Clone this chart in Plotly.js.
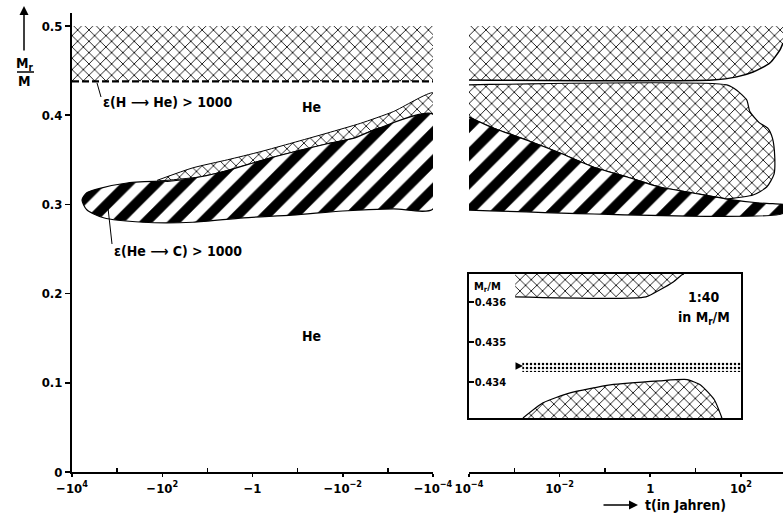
<!DOCTYPE html>
<html>
<head>
<meta charset="utf-8">
<script src="https://cdn.plot.ly/plotly-3.0.1.min.js"></script>
<style>html,body{margin:0;padding:0;background:#fff;}#chart{width:783px;height:517px;}</style>
</head>
<body>
<div id="chart"></div>
<script>
// ---------- DATA (t in years, Mr/M) ----------
// Left panel: before the flash maximum (t < 0)
const hShellM = 0.438;                         // ε(H→He) > 1000 boundary
const envTopM = 0.5;
const leftEnvT = [-1e4, -1e-4];

// He-burning region (ε(He→C) > 1000), left panel, outline going round
const leftBurnT = [-6000, -4700, -2400, -600, -110, -68, -14, -3.6, -0.41, -0.022, -0.0059, -0.0017, -0.0001,
                   -0.0001, -0.00076, -0.01, -0.13, -1.6, -21, -270, -2000, -4700, -6000];
const leftBurnM = [0.305, 0.313, 0.318, 0.324, 0.326, 0.326, 0.331, 0.338, 0.352, 0.368, 0.374, 0.385, 0.401,
                   0.295, 0.295, 0.2926, 0.288, 0.285, 0.280, 0.280, 0.285, 0.294, 0.305];

// Convective band above the burning region, left panel
const leftConvTopT = [-130, -21, -3.6, -0.68, -0.13, -0.022, -0.004, -0.00076, -0.0001];
const leftConvTopM = [0.327, 0.341, 0.350, 0.359, 0.369, 0.380, 0.391, 0.404, 0.425];
const leftConvBotT = [-0.0001, -0.0017, -0.0059, -0.022, -0.41, -3.6, -14, -130];
const leftConvBotM = [0.401, 0.385, 0.374, 0.368, 0.352, 0.338, 0.331, 0.326];

// Right panel: after the flash maximum (t > 0)
const rightEnvBotT = [1e-4, 24, 81, 186, 437, 724, 850];
const rightEnvBotM = [0.4395, 0.4395, 0.443, 0.4484, 0.4585, 0.473, 0.481];

const rightBurnTopT = [1e-4, 0.00034, 0.0019, 0.0102, 0.055, 0.31, 1.6, 8.7, 49, 263, 724, 850];
const rightBurnTopM = [0.398, 0.3857, 0.372, 0.3576, 0.342, 0.3307, 0.3195, 0.3128, 0.306, 0.3016, 0.3004, 0.300];
const rightBurnBotT = [850, 1e-4];
const rightBurnBotM = [0.290, 0.2937];

// Convective zone of the flash, right panel (outer edge)
const rightConvT = [1e-4, 49, 81, 135, 158, 250, 400, 500, 560, 540, 372, 186, 49];
const rightConvM = [0.434, 0.434, 0.428, 0.417, 0.404, 0.392, 0.385, 0.374, 0.353, 0.334, 0.3195, 0.3105, 0.306];

// Inset (1:40 in Mr/M)
const insetUpperT = [0.00104, 0.8, 1.6, 3.2, 5.0, 5.5];
const insetUpperM = [0.43613, 0.43613, 0.4363, 0.4365, 0.43668, 0.4367];
const insetShellT = [0.0015, 100];
const insetShellM = [0.43425, 0.4345];
const insetLowerT = [0.00155, 0.0043, 0.017, 0.13, 1.6, 6.5, 13, 26, 38];
const insetLowerM = [0.4331, 0.43348, 0.43373, 0.43393, 0.43403, 0.43406, 0.43392, 0.43355, 0.4331];

const leftTickT = [-1e4, -1e2, -1, -1e-2, -1e-4];
const leftTickText = ['\u221210<sup>4</sup>', '\u221210<sup>2</sup>', '\u22121', '\u221210<sup>\u22122</sup>', '\u221210<sup>\u22124</sup>'];
const leftMinorT = [-1e3, -1e1, -1e-1, -1e-3];
const rightTickT = [1e-4, 1e-2, 1, 1e2];
const rightTickText = ['10<sup>\u22124</sup>', '10<sup>\u22122</sup>', '1', '10<sup>2</sup>'];
const rightMinorT = [1e-3, 1e-1, 10, 1e3];
const yTicks = [0, 0.1, 0.2, 0.3, 0.4, 0.5];
const yTickText = ['0', '0.1', '0.2', '0.3', '0.4', '0.5'];
const insetTicks = [0.434, 0.435, 0.436];
const insetTickText = ['0.434', '0.435', '0.436'];

// ---------- helpers ----------
const abs = a => a.map(v => Math.abs(v));
const W = 783, H = 517, ML = 72, MR = 0, MT = 13, MB = 45;
const PW = W - ML - MR, PH = H - MT - MB;
const px = X => (X - ML) / PW;
const py = Y => (H - MB - Y) / PH;
const FONT = 'DejaVu Sans Condensed, Liberation Sans Narrow, sans-serif';

const convPattern = {shape: 'x', fgcolor: '#000', bgcolor: '#fff', size: 8, solidity: 0.2};
const hatchPattern = {shape: '/', fgcolor: '#000', bgcolor: '#fff', size: 20, solidity: 0.5};

const traces = [];
traces.push({x: abs([leftEnvT[0], leftEnvT[1], leftEnvT[1], leftEnvT[0]]), y: [hShellM, hShellM, envTopM, envTopM],
  xaxis: 'x', yaxis: 'y', mode: 'lines', fill: 'toself', fillcolor: '#fff', fillpattern: convPattern,
  line: {width: 0}, hoverinfo: 'skip'});
traces.push({x: abs(leftEnvT), y: [hShellM, hShellM], xaxis: 'x', yaxis: 'y', mode: 'lines',
  line: {color: '#000', width: 2.2, dash: '7px,3px'}, hoverinfo: 'skip'});
traces.push({x: abs(leftConvTopT.concat(leftConvBotT)), y: leftConvTopM.concat(leftConvBotM),
  xaxis: 'x', yaxis: 'y', mode: 'lines', fill: 'toself', fillcolor: '#fff', fillpattern: convPattern,
  line: {color: '#000', width: 1, shape: 'spline', smoothing: 0.6}, hoverinfo: 'skip'});
traces.push({x: abs(leftBurnT), y: leftBurnM, xaxis: 'x', yaxis: 'y', mode: 'lines', fill: 'toself',
  fillcolor: '#fff', fillpattern: hatchPattern,
  line: {color: '#000', width: 1.2, shape: 'spline', smoothing: 0.7}, hoverinfo: 'skip'});

traces.push({x: rightEnvBotT.concat([rightEnvBotT[rightEnvBotT.length - 1], rightEnvBotT[0]]),
  y: rightEnvBotM.concat([envTopM, envTopM]), xaxis: 'x2', yaxis: 'y', mode: 'lines', fill: 'toself',
  fillcolor: '#fff', fillpattern: convPattern, line: {width: 0}, hoverinfo: 'skip'});
traces.push({x: rightEnvBotT, y: rightEnvBotM, xaxis: 'x2', yaxis: 'y', mode: 'lines',
  line: {color: '#000', width: 1.5, shape: 'spline', smoothing: 0.6}, hoverinfo: 'skip'});
traces.push({x: rightConvT.concat(rightBurnTopT.slice(0, 9).reverse()),
  y: rightConvM.concat(rightBurnTopM.slice(0, 9).reverse()), xaxis: 'x2', yaxis: 'y', mode: 'lines',
  fill: 'toself', fillcolor: '#fff', fillpattern: convPattern,
  line: {color: '#000', width: 1.2, shape: 'spline', smoothing: 0.6}, hoverinfo: 'skip'});
traces.push({x: rightBurnTopT.concat(rightBurnBotT), y: rightBurnTopM.concat(rightBurnBotM),
  xaxis: 'x2', yaxis: 'y', mode: 'lines', fill: 'toself', fillcolor: '#fff', fillpattern: hatchPattern,
  line: {color: '#000', width: 1.2, shape: 'spline', smoothing: 0.5}, hoverinfo: 'skip'});

traces.push({x: insetUpperT.concat([insetUpperT[insetUpperT.length - 1], insetUpperT[0]]),
  y: insetUpperM.concat([0.4367, 0.4367]), xaxis: 'x3', yaxis: 'y3', mode: 'lines', fill: 'toself',
  fillcolor: '#fff', fillpattern: convPattern, line: {width: 0}, hoverinfo: 'skip'});
traces.push({x: insetUpperT, y: insetUpperM, xaxis: 'x3', yaxis: 'y3', mode: 'lines',
  line: {color: '#000', width: 1.2, shape: 'spline', smoothing: 0.6}, hoverinfo: 'skip'});
traces.push({x: [insetShellT[0], insetShellT[1], insetShellT[1], insetShellT[0]],
  y: [insetShellM[0], insetShellM[0], insetShellM[1], insetShellM[1]], xaxis: 'x3', yaxis: 'y3',
  mode: 'lines', fill: 'toself', fillcolor: '#fff',
  fillpattern: {shape: '.', fgcolor: '#000', bgcolor: '#fff', size: 4, solidity: 0.3},
  line: {width: 0}, hoverinfo: 'skip'});
traces.push({x: insetLowerT, y: insetLowerM, xaxis: 'x3', yaxis: 'y3', mode: 'lines', fill: 'toself',
  fillcolor: '#fff', fillpattern: convPattern,
  line: {color: '#000', width: 1.2, shape: 'spline', smoothing: 0.5}, hoverinfo: 'skip'});

const TF = {family: FONT, size: 13, color: '#000', weight: 'bold'};
const axLine = {showline: true, linecolor: '#000', linewidth: 2, showgrid: false, zeroline: false,
  tickcolor: '#000', tickfont: TF};

const layout = {
  width: W, height: H, margin: {l: ML, r: MR, t: MT, b: MB},
  paper_bgcolor: '#fff', plot_bgcolor: 'rgba(0,0,0,0)', showlegend: false,
  font: {family: FONT, color: '#000'},
  xaxis: Object.assign({}, axLine, {domain: [0, px(433)], anchor: 'y', type: 'log', range: [4, -4],
    tickmode: 'array', tickvals: abs(leftTickT), ticktext: leftTickText, ticks: 'outside', ticklen: 3, tickwidth: 1.5,
    minor: {tickmode: 'array', tickvals: abs(leftMinorT), ticks: 'inside', ticklen: 4, tickwidth: 1.5, tickcolor: '#000'}}),
  xaxis2: Object.assign({}, axLine, {domain: [px(469), 1], anchor: 'y', type: 'log', range: [-4, 2.93],
    tickmode: 'array', tickvals: rightTickT, ticktext: rightTickText, ticks: 'outside', ticklen: 3, tickwidth: 1.5,
    minor: {tickmode: 'array', tickvals: rightMinorT, ticks: 'inside', ticklen: 4, tickwidth: 1.5, tickcolor: '#000'}}),
  yaxis: Object.assign({}, axLine, {domain: [0, 1], anchor: 'x', range: [0, 0.5146],
    tickmode: 'array', tickvals: yTicks, ticktext: yTickText, ticks: 'outside', ticklen: 5, tickwidth: 1.5}),
  xaxis3: {domain: [px(469), px(741)], anchor: 'y3', type: 'log', range: [-4, 2], showline: true, mirror: true,
    linecolor: '#000', linewidth: 2, showgrid: false, zeroline: false, ticks: '', showticklabels: false},
  yaxis3: {domain: [py(418), py(274)], anchor: 'x3', range: [0.4331, 0.4367], showline: true, mirror: true,
    linecolor: '#000', linewidth: 2, showgrid: false, zeroline: false, tickmode: 'array',
    tickvals: insetTicks, ticktext: insetTickText, ticks: 'inside', ticklen: 5, tickwidth: 1.5, tickcolor: '#000',
    ticklabelposition: 'inside', tickfont: {family: FONT, size: 11, color: '#000', weight: 'bold'}},
  shapes: [
    {type: 'line', xref: 'paper', yref: 'paper', x0: px(97), y0: py(83), x1: px(101), y1: py(97), line: {color: '#000', width: 1}},
    {type: 'line', xref: 'paper', yref: 'paper', x0: px(108), y0: py(208), x1: px(112), y1: py(244), line: {color: '#000', width: 1}},
    {type: 'line', xref: 'paper', yref: 'paper', x0: px(17), y0: py(72), x1: px(34), y1: py(72), line: {color: '#000', width: 1.5}}
  ],
  annotations: [
    {xref: 'paper', yref: 'paper', x: px(101), y: py(102), xanchor: 'left', yanchor: 'middle', showarrow: false,
      text: '\u03b5(H \u27f6 He) > 1000', font: {size: 14, weight: 'bold'}},
    {xref: 'paper', yref: 'paper', x: px(112), y: py(251), xanchor: 'left', yanchor: 'middle', showarrow: false,
      text: '\u03b5(He \u27f6 C) > 1000', font: {size: 14, weight: 'bold'}},
    {xref: 'paper', yref: 'paper', x: px(311), y: py(107), xanchor: 'center', yanchor: 'middle', showarrow: false,
      text: 'He', font: {size: 14, weight: 'bold'}},
    {xref: 'paper', yref: 'paper', x: px(311), y: py(336), xanchor: 'center', yanchor: 'middle', showarrow: false,
      text: 'He', font: {size: 14, weight: 'bold'}},
    {xref: 'paper', yref: 'paper', x: px(704), y: py(297), xanchor: 'center', yanchor: 'middle', showarrow: false,
      text: '1:40', font: {size: 14, weight: 'bold'}},
    {xref: 'paper', yref: 'paper', x: px(704), y: py(318), xanchor: 'center', yanchor: 'middle', showarrow: false,
      text: 'in M<sub>r</sub>/M', font: {size: 14, weight: 'bold'}},
    {xref: 'paper', yref: 'paper', x: px(472), y: py(287), xanchor: 'left', yanchor: 'middle', showarrow: false,
      text: 'M<sub>r</sub>/M', font: {size: 11, weight: 'bold'}},
    {xref: 'paper', yref: 'paper', x: px(25), y: py(64), xanchor: 'center', yanchor: 'middle', showarrow: false,
      text: 'M<sub>r</sub>', font: {size: 14, weight: 'bold'}},
    {xref: 'paper', yref: 'paper', x: px(25), y: py(81), xanchor: 'center', yanchor: 'middle', showarrow: false,
      text: 'M', font: {size: 14, weight: 'bold'}},
    {xref: 'paper', yref: 'paper', x: px(24), y: py(6), ax: 0, ay: 46, axref: 'pixel', ayref: 'pixel',
      showarrow: true, arrowhead: 2, arrowsize: 1.2, arrowwidth: 1.5, arrowcolor: '#000', text: ''},
    {xref: 'paper', yref: 'paper', x: px(638), y: py(505), ax: -36, ay: 0, axref: 'pixel', ayref: 'pixel',
      showarrow: true, arrowhead: 2, arrowsize: 1.2, arrowwidth: 1.5, arrowcolor: '#000', text: ''},
    {xref: 'paper', yref: 'paper', x: px(643), y: py(505), xanchor: 'left', yanchor: 'middle', showarrow: false,
      text: 't(in Jahren)', font: {size: 14, weight: 'bold'}},
    {xref: 'paper', yref: 'paper', x: px(523), y: py(366), ax: -8, ay: 0, axref: 'pixel', ayref: 'pixel',
      showarrow: true, arrowhead: 2, arrowsize: 1, arrowwidth: 1.5, arrowcolor: '#000', text: ''}
  ]
};

Plotly.newPlot('chart', traces, layout, {staticPlot: true, displayModeBar: false});
</script>
</body>
</html>
